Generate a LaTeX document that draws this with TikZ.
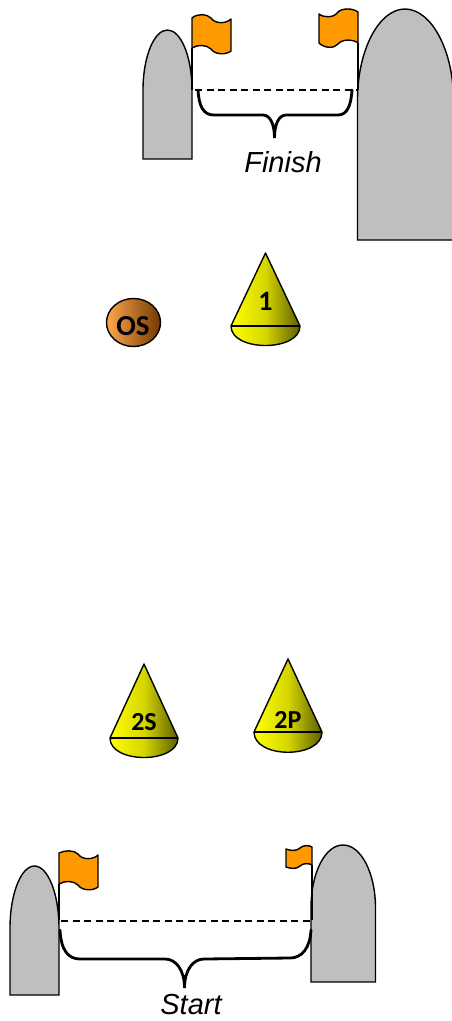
\documentclass[tikz,border=0pt]{standalone}
\usepackage{fontspec}
\setmainfont{Liberation Sans}
\newfontfamily\labelfont{Carlito}
\usepackage{tikz}
\usetikzlibrary{shapes.geometric, positioning}
\definecolor{wallgray}{HTML}{BFBFBF}
\definecolor{flagorange}{HTML}{FF9900}
\definecolor{conedark}{HTML}{5E5E00}
\tikzset{
    wall/.style={draw=black, fill=wallgray, line width=1.4pt, line join=miter},
    flag/.style={draw=black, fill=flagorange, line width=1.4pt, line join=round},
    pole/.style={draw=black, line width=1.2pt},
    gate/.style={draw=black, line width=1.3pt, dash pattern=on 7pt off 4.5pt},
    brace/.style={draw=black, line width=2.8pt, line cap=round},
    cone/.style={draw=black, line width=1.4pt, line join=round, left color=yellow, right color=conedark, middle color=yellow!74!conedark},
    conebase/.style={draw=black, line width=1.5pt},
    place/.style={font=\itshape\fontsize{29}{29}\selectfont, inner sep=0pt},
    mark/.style={font=\labelfont\bfseries\fontsize{#1}{#1}\selectfont, inner sep=0pt},
    mark/.default=26
}
\begin{document}
\begin{tikzpicture}[x=1pt, y=-1pt]
    \useasboundingbox[fill=white] (0,0) rectangle (452,1021);

    \draw[wall] (143,159) -- (143,90) .. controls (143,57) and (154,30) .. (167.5,30) .. controls (181,30) and (192,57) .. (192,90) -- (192,159) -- cycle;
    \draw[wall] (357.5,240) -- (357.5,100) .. controls (357.5,50) and (379,9) .. (405,9) .. controls (431,9) and (453.5,50) .. (453.5,100) -- (453.5,240) -- cycle;
    \draw[wall] (10,995) -- (10,928) .. controls (10,894) and (21,866) .. (34.5,866) .. controls (48,866) and (59,894) .. (59,928) -- (59,995) -- cycle;
    \draw[wall] (311,982) -- (311,908) .. controls (311,873) and (325,845) .. (343,845) .. controls (361,845) and (375.5,873) .. (375.5,908) -- (375.5,982) -- cycle;

    \draw[pole] (192,48) -- (192,90);
    \draw[pole] (358,43) -- (358,90);
    \draw[pole] (59,884) -- (59,920);
    \draw[pole] (312,865) -- (312,920);

    \draw[flag] (192,18) .. controls (198,13) and (207,14) .. (211,18) .. controls (215,24) and (226,24) .. (231,19) -- (231,51) .. controls (226,55) and (215,55) .. (211,49) .. controls (207,45) and (198,44) .. (192,48) -- cycle;
    \draw[flag] (319,14) .. controls (324,18) and (334,18) .. (338,12) .. controls (342,8) and (353,8) .. (358,12) -- (358,43) .. controls (353,39) and (342,39) .. (338,44) .. controls (334,49) and (324,48) .. (319,43) -- cycle;
    \draw[flag] (59,853) .. controls (65,850) and (74,850) .. (78,854) .. controls (82,860) and (93,860) .. (98,855) -- (98,887) .. controls (93,891) and (82,891) .. (78,885) .. controls (74,881) and (65,880) .. (59,884) -- cycle;
    \draw[flag] (286,849) .. controls (291,851) and (297,851) .. (300,848) .. controls (303,845) and (309,845) .. (312,847) -- (312,865) .. controls (309,863) and (303,863) .. (300,866) .. controls (297,869) and (291,869) .. (286,867) -- cycle;

    \draw[gate] (195,90) -- (357,90);
    \draw[gate] (61,921) -- (310,921);

    \draw[brace] (198,90) .. controls (199,106) and (203,115) .. (214,115) -- (263,115) .. controls (270,115) and (274.5,124) .. (274.5,138) .. controls (274.5,124) and (279,115) .. (286,115) -- (338,115) .. controls (347,115) and (351,106) .. (352,90);
    \draw[brace] (60,930) .. controls (61,950) and (68,959) .. (80,959) -- (165,959) .. controls (176,959) and (184.5,970) .. (184.5,988) .. controls (184.5,970) and (193,959) .. (204,959) -- (290,958) .. controls (302,958) and (310,948) .. (311,930);

    \node[place] (finish) at (283,162) {Finish};
    \node[place] (start) at (191,1005) {Start};

    \shade[cone] (265.5,253) -- (300,326) .. controls (300,352) and (231,352) .. (231,326) -- cycle;
    \draw[conebase] (231,326) -- (300,326);
    \node[mark=28] (cone1) at (265.5,301) {1};

    \shade[cone] (144,664) -- (178,738) .. controls (178,764) and (110,764) .. (110,738) -- cycle;
    \draw[conebase] (110,738) -- (178,738);
    \node[mark] (cone2s) at (144,722) {2S};

    \shade[cone] (288,659) -- (322,732) .. controls (322,759) and (254,759) .. (254,732) -- cycle;
    \draw[conebase] (254,732) -- (322,732);
    \node[mark] (cone2p) at (288,720) {2P};

    \node[draw=black, line width=1.4pt, ellipse, left color=orange!70!white, right color=orange!45!black, minimum width=54pt, minimum height=48pt, inner sep=0pt] (osbuoy) at (133.5,322.5) {};
    \node[mark=29] (os) at (133,326) {OS};
\end{tikzpicture}
\end{document}
